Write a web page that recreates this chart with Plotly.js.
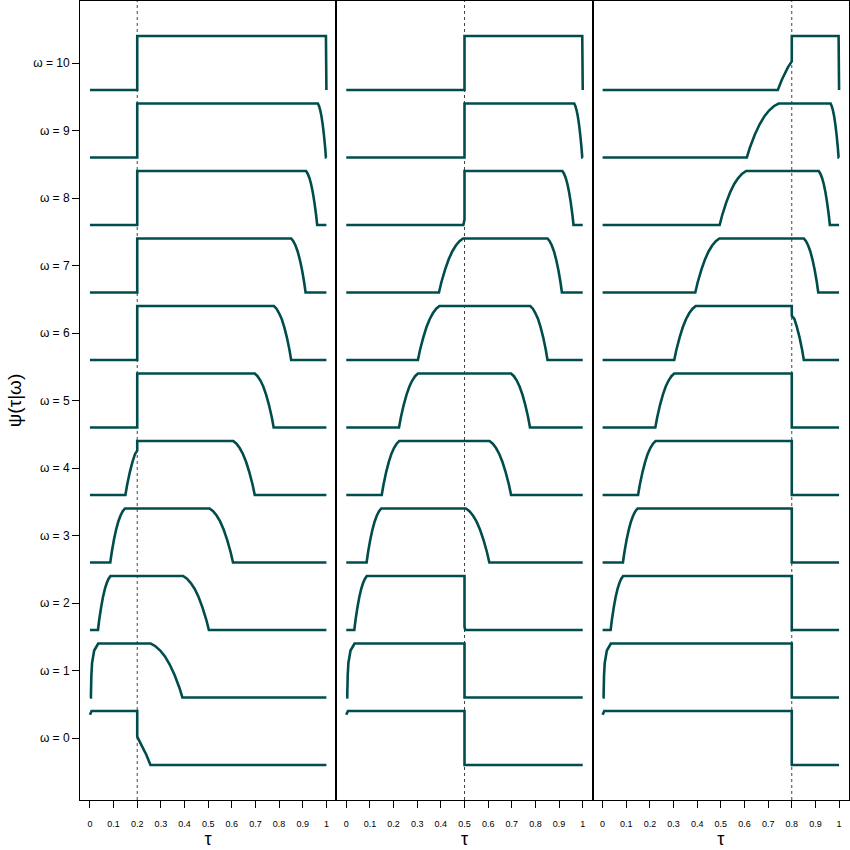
<!DOCTYPE html>
<html>
<head>
<meta charset="utf-8">
<script src="https://cdn.plot.ly/plotly-3.0.1.min.js"></script>
<style>html,body{margin:0;padding:0;background:#fff;}#chart{width:850px;height:850px;}</style>
</head>
<body>
<div id="chart"></div>
<script>
// ω levels (rows)
const OMEGA = [0, 1, 2, 3, 4, 5, 6, 7, 8, 9, 10];
// cut point marked by the dotted line in each panel
const CUTS = [0.2, 0.5, 0.8];
const X_TICKS = [0, 0.1, 0.2, 0.3, 0.4, 0.5, 0.6, 0.7, 0.8, 0.9, 1];
const X_TICK_TEXT = ['0', '0.1', '0.2', '0.3', '0.4', '0.5', '0.6', '0.7', '0.8', '0.9', '1'];
const Y_TICK_TEXT = OMEGA.map(w => 'ω = ' + w);

// rising branch (used left of the cut): τ and ψ (0..1)
const RISE_PSI = [0, 0, 0.19, 0.42, 0.61, 0.76, 0.87, 0.95, 1];
const riseTau = [
  [0, 0.007],
  [0, 0.004, 0.006, 0.009, 0.018, 0.035],
  [0, 0.034, 0.0393, 0.0473, 0.0552, 0.0632, 0.0711, 0.0791, 0.087],
  [0, 0.086, 0.0922, 0.1015, 0.1108, 0.1201, 0.1294, 0.1387, 0.148],
  [0, 0.150, 0.1574, 0.1685, 0.1796, 0.1907, 0.2018, 0.2129, 0.224],
  [0, 0.223, 0.231, 0.243, 0.255, 0.267, 0.279, 0.291, 0.303],
  [0, 0.303, 0.3121, 0.3258, 0.3394, 0.3531, 0.3667, 0.3804, 0.394],
  [0, 0.392, 0.4022, 0.4175, 0.4328, 0.4481, 0.4634, 0.4787, 0.494],
  [0, 0.495, 0.5062, 0.523, 0.5398, 0.5566, 0.5734, 0.5902, 0.607],
  [0, 0.610, 0.6234, 0.6435, 0.6636, 0.6837, 0.7038, 0.7239, 0.744],
  [0, 0.741, 0.758, 0.7835, 0.809, 0.8345, 0.86, 0.8855, 0.911]
];
const risePsi = [
  [0.93, 1],
  [0, 0, 0.40, 0.64, 0.87, 1],
  RISE_PSI, RISE_PSI, RISE_PSI, RISE_PSI, RISE_PSI,
  RISE_PSI, RISE_PSI, RISE_PSI, RISE_PSI
];
// falling branch (used right of the cut)
const FALL_PSI = [1, 0.95, 0.87, 0.76, 0.61, 0.42, 0.19, 0, 0];
const fallTau = [
  [0.080, 0.1064, 0.1328, 0.1592, 0.1856, 0.212, 0.2384, 0.256, 1],
  [0.257, 0.2771, 0.2972, 0.3173, 0.3374, 0.3575, 0.3776, 0.391, 1],
  [0.394, 0.4104, 0.4267, 0.4431, 0.4594, 0.4758, 0.4921, 0.503, 1],
  [0.506, 0.5209, 0.5357, 0.5506, 0.5654, 0.5803, 0.5951, 0.605, 1],
  [0.606, 0.6197, 0.6333, 0.647, 0.6606, 0.6743, 0.6879, 0.697, 1],
  [0.697, 0.709, 0.721, 0.733, 0.745, 0.757, 0.769, 0.777, 1],
  [0.778, 0.789, 0.7995, 0.8109, 0.8218, 0.8328, 0.8437, 0.851, 1],
  [0.851, 0.8602, 0.8693, 0.8785, 0.8876, 0.8968, 0.9059, 0.912, 1],
  [0.914, 0.921, 0.9281, 0.9352, 0.9422, 0.9493, 0.9563, 0.961, 1],
  [0.964, 0.9691, 0.9742, 0.9793, 0.9844, 0.9895, 0.9946, 0.998, 1],
  [0.998, 1]
];
const fallPsi = [
  FALL_PSI, FALL_PSI, FALL_PSI, FALL_PSI, FALL_PSI, FALL_PSI,
  FALL_PSI, FALL_PSI, FALL_PSI, FALL_PSI,
  [1, 0]
];
// ψ just left / right of the cut, per panel
const cutLeft1  = [1, 1, 1, 1, 0.82, 0, 0, 0, 0, 0, 0];
const cutRight1 = [0.525, 1, 1, 1, 1, 1, 1, 1, 1, 1, 1];
const cutLeft2  = [1, 1, 1, 1, 1, 1, 1, 1, 0.10, 0, 0];
const cutRight2 = [0, 0, 0.06, 1, 1, 1, 1, 1, 1, 1, 1];
const cutLeft3  = [1, 1, 1, 1, 1, 1, 1, 1, 1, 1, 0.53];
const cutRight3 = [0, 0, 0, 0, 0, 0, 0.82, 1, 1, 1, 1];
const CUT_LEFT = [cutLeft1, cutLeft2, cutLeft3];
const CUT_RIGHT = [cutRight1, cutRight2, cutRight3];

const LINE_COLOR = '#014d4c';
const FONT = 'Liberation Sans, Arial, Helvetica, sans-serif';

const traces = [];
CUTS.forEach((c, p) => {
  OMEGA.forEach((w, i) => {
    const xs = [], ps = [];
    riseTau[i].forEach((t, k) => { if (t < c) { xs.push(t); ps.push(risePsi[i][k]); } });
    xs.push(c); ps.push(CUT_LEFT[p][i]);
    xs.push(c); ps.push(CUT_RIGHT[p][i]);
    fallTau[i].forEach((t, k) => { if (t > c) { xs.push(t); ps.push(fallPsi[i][k]); } });
    traces.push({
      type: 'scatter', mode: 'lines',
      x: xs, y: ps.map(v => w - 0.4 + 0.8 * v),
      xaxis: p === 0 ? 'x' : 'x' + (p + 1),
      yaxis: p === 0 ? 'y' : 'y' + (p + 1),
      line: { color: LINE_COLOR, width: 2.6, simplify: false },
      hoverinfo: 'skip', showlegend: false
    });
  });
});

const xBase = {
  range: [-0.042, 1.042], tickvals: X_TICKS, ticktext: X_TICK_TEXT,
  ticks: 'outside', ticklen: 7, tickwidth: 1, tickcolor: '#000',
  ticklabelstandoff: 8,
  tickfont: { family: FONT, size: 9, color: '#000' },
  showline: true, mirror: true, linecolor: '#000', linewidth: 1,
  showgrid: false, zeroline: false, fixedrange: true,
  title: { text: 'τ', font: { family: FONT, size: 18, color: '#000' }, standoff: 3 }
};
const yRange = [-0.9185, 10.9185];
const layout = {
  width: 850, height: 850,
  margin: { l: 80, r: 1, t: 1, b: 50 },
  paper_bgcolor: '#fff', plot_bgcolor: '#fff',
  showlegend: false,
  xaxis: Object.assign({}, xBase, { domain: [0, 1 / 3], anchor: 'y' }),
  xaxis2: Object.assign({}, xBase, { domain: [1 / 3, 2 / 3], anchor: 'y2' }),
  xaxis3: Object.assign({}, xBase, { domain: [2 / 3, 1], anchor: 'y3' }),
  yaxis: {
    domain: [0, 1], anchor: 'x', range: yRange,
    tickvals: OMEGA, ticktext: Y_TICK_TEXT,
    ticks: 'outside', ticklen: 7, tickwidth: 1, tickcolor: '#000',
    tickfont: { family: FONT, size: 12, color: '#000' },
    showline: true, mirror: true, linecolor: '#000', linewidth: 1,
    showgrid: false, zeroline: false, fixedrange: true,
    title: { text: 'ψ(τ|ω)', font: { family: FONT, size: 19, color: '#000' }, standoff: 6 }
  },
  yaxis2: {
    domain: [0, 1], anchor: 'x2', matches: 'y', range: yRange,
    showticklabels: false, ticks: '',
    showline: true, mirror: true, linecolor: '#000', linewidth: 1,
    showgrid: false, zeroline: false, fixedrange: true
  },
  yaxis3: {
    domain: [0, 1], anchor: 'x3', matches: 'y', range: yRange,
    showticklabels: false, ticks: '',
    showline: true, mirror: true, linecolor: '#000', linewidth: 1,
    showgrid: false, zeroline: false, fixedrange: true
  },
  shapes: CUTS.map((c, p) => ({
    type: 'line', xref: p === 0 ? 'x' : 'x' + (p + 1), yref: 'paper',
    x0: c, x1: c, y0: 0, y1: 1, layer: 'below',
    line: { color: '#444', width: 1, dash: 'dot' }
  }))
};

Plotly.newPlot('chart', traces, layout, { staticPlot: true, displayModeBar: false });
</script>
</body>
</html>
